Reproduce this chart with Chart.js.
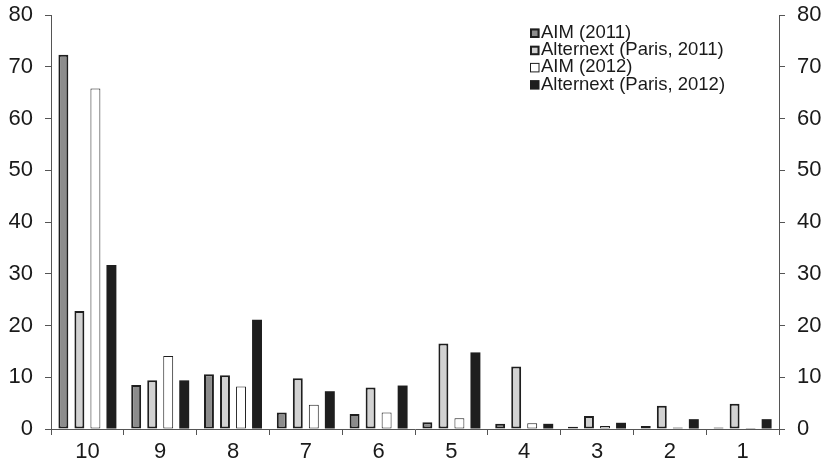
<!DOCTYPE html>
<html>
<head>
<meta charset="utf-8">
<script src="https://cdn.jsdelivr.net/npm/chart.js@4.4.1/dist/chart.umd.min.js"></script>
<style>
html,body{margin:0;padding:0;background:#fff;}
#wrap{width:827px;height:464px;}
</style>
</head>
<body>
<div id="wrap"><canvas id="c" width="827" height="464"></canvas></div>
<script>
const categories = ['10','9','8','7','6','5','4','3','2','1'];
const aim2011 = [72.3, 8.5, 10.6, 3.2, 2.9, 1.3, 1.0, 0.45, 0.6, 0.3];
const alternext2011 = [22.8, 9.4, 10.4, 9.8, 8.0, 16.5, 12.1, 2.5, 4.5, 4.9];
const aim2012 = [65.8, 14.1, 8.2, 4.7, 3.2, 2.1, 1.1, 0.6, 0.3, 0.2];
const alternext2012 = [31.7, 9.4, 21.1, 7.3, 8.4, 14.8, 1.0, 1.2, 1.9, 1.9];
const seriesLabels = ['AIM (2011)', 'Alternext (Paris, 2011)', 'AIM (2012)', 'Alternext (Paris, 2012)'];
const yTicks = [0,10,20,30,40,50,60,70,80];

const FONT = "'Liberation Sans', Arial, sans-serif";
const fills = ['#8c8c8c', '#d2d2d2', '#ffffff', '#1e1e1e'];
const borders = ['#1e1e1e', '#1e1e1e', '#1e1e1e', '#1e1e1e'];
const bw = [2, 2, 1, 0];

const legendPlugin = {
  id: 'customLegend',
  afterDraw(chart) {
    const ctx = chart.ctx;
    ctx.save();
    ctx.font = '18.5px ' + FONT;
    ctx.textBaseline = 'alphabetic';
    ctx.textAlign = 'left';
    chart.data.datasets.forEach((ds, i) => {
      const yb = 38 + i * 17.2;
      const bx = 530, by = yb - 9.5, s = 9.5;
      ctx.fillStyle = ds.backgroundColor;
      ctx.fillRect(bx, by, s, s);
      if (ds.borderWidth > 0) {
        ctx.strokeStyle = ds.borderColor;
        ctx.lineWidth = ds.borderWidth;
        ctx.strokeRect(bx + ds.borderWidth/2, by + ds.borderWidth/2, s - ds.borderWidth, s - ds.borderWidth);
      }
      ctx.fillStyle = '#1a1a1a';
      ctx.fillText(ds.label, 541, yb);
    });
    ctx.restore();
  }
};

const seriesData = [aim2011, alternext2011, aim2012, alternext2012];
const datasets = seriesData.map((d, i) => ({
  label: seriesLabels[i],
  data: d,
  backgroundColor: fills[i],
  borderColor: borders[i],
  borderWidth: bw[i],
  borderSkipped: false,
  categoryPercentage: 0.88,
  barPercentage: 0.62,
  yAxisID: 'y'
}));

const tickFont = { family: FONT, size: 22 };
const axisColor = '#555';
function noPad(s) { s.paddingTop = 0; s.paddingBottom = 0; }

new Chart(document.getElementById('c'), {
  type: 'bar',
  data: { labels: categories, datasets },
  options: {
    responsive: false,
    animation: false,
    devicePixelRatio: 1,
    layout: { padding: { top: 15, left: 0, right: 0, bottom: 0 } },
    plugins: { legend: { display: false }, tooltip: { enabled: false } },
    scales: {
      x: {
        grid: { offset: true, drawOnChartArea: false, drawTicks: true, tickLength: 6, color: axisColor },
        border: { color: axisColor, width: 1 },
        ticks: { font: tickFont, color: '#1a1a1a', padding: 4 },
        afterFit(s) { s.height = 35; s.paddingLeft = 0; s.paddingRight = 0; }
      },
      y: {
        position: 'left',
        min: 0, max: 80,
        afterBuildTicks(s) { s.ticks = yTicks.map(v => ({ value: v })); },
        grid: { drawOnChartArea: false, drawTicks: true, tickLength: 6, color: axisColor },
        border: { color: axisColor, width: 1 },
        ticks: { font: tickFont, color: '#1a1a1a', padding: 12 },
        afterFit(s) { s.width = 51; noPad(s); }
      },
      y1: {
        position: 'right',
        min: 0, max: 80,
        afterBuildTicks(s) { s.ticks = yTicks.map(v => ({ value: v })); },
        grid: { drawOnChartArea: false, drawTicks: true, tickLength: 6, color: axisColor },
        border: { color: axisColor, width: 1 },
        ticks: { font: tickFont, color: '#1a1a1a', padding: 12 },
        afterFit(s) { s.width = 48; noPad(s); }
      }
    }
  },
  plugins: [legendPlugin]
});
</script>
</body>
</html>
